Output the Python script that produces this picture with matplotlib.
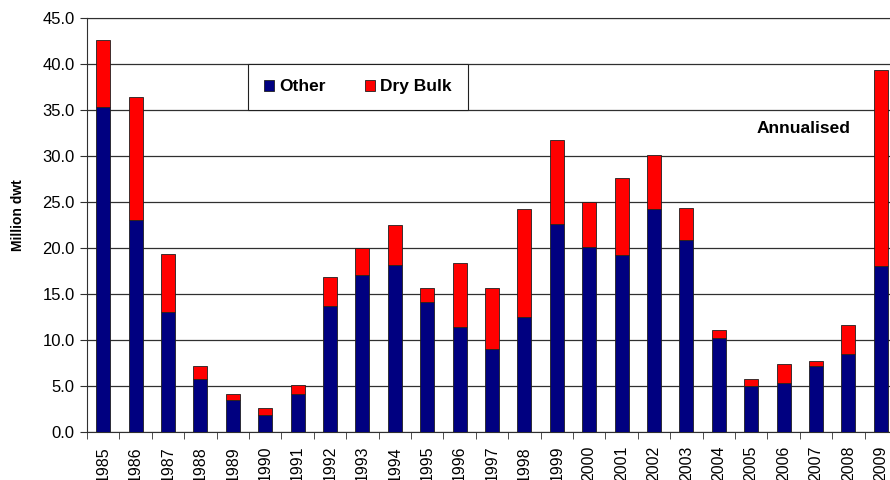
import numpy as np
import matplotlib
matplotlib.use("Agg")
import matplotlib.pyplot as plt

plt.rcParams['font.family'] = ['Liberation Sans', 'DejaVu Sans']

# dados
anos = ['1985', '1986', '1987', '1988', '1989', '1990', '1991', '1992', '1993',
        '1994', '1995', '1996', '1997', '1998', '1999', '2000', '2001', '2002',
        '2003', '2004', '2005', '2006', '2007', '2008', '2009']
outros = [35.3, 23.0, 13.0, 5.8, 3.45, 1.85, 4.1, 13.7, 17.1, 18.15, 14.1, 11.4, 9.0,
          12.5, 22.6, 20.1, 19.2, 24.2, 20.9, 10.2, 5.0, 5.3, 7.2, 8.45, 18.0]
total = [42.6, 36.4, 19.4, 7.2, 4.1, 2.65, 5.1, 16.8, 20.0, 22.5, 15.6, 18.4, 15.7,
         24.2, 31.7, 25.0, 27.6, 30.1, 24.3, 11.05, 5.75, 7.35, 7.7, 11.6, 39.35]
granel = [round(t - o, 2) for t, o in zip(total, outros)]

fig = plt.figure(figsize=(8.9, 4.8), dpi=100)
ax = fig.add_axes([87 / 890, 48 / 480, 810 / 890, 414 / 480])

x = np.arange(len(anos))
largura = 0.43
ax.bar(x, outros, width=largura, color='#000080', edgecolor='#202020',
       linewidth=0.6, label='Other', zorder=3)
ax.bar(x, granel, width=largura, bottom=outros, color='#FF0000', edgecolor='#202020',
       linewidth=0.6, label='Dry Bulk', zorder=3)

ax.set_xlim(-0.5, len(anos) - 0.5)
ax.set_ylim(0, 45)
ax.set_yticks(np.arange(0, 46, 5))
ax.set_yticklabels(['%.1f' % v for v in np.arange(0, 46, 5)], fontsize=12)
ax.yaxis.grid(True, color='#303030', linewidth=0.9, zorder=0)

ax.set_xticks(x)
ax.set_xticklabels(anos, rotation=90, fontsize=11.5)
ax.set_xticks(np.arange(-0.5, len(anos), 1), minor=True)
ax.tick_params(axis='x', which='major', length=0, pad=10)
ax.tick_params(axis='x', which='minor', length=5, color='#303030')
ax.tick_params(axis='y', length=5, color='#303030', pad=4)

for lado in ['left', 'bottom', 'top']:
    ax.spines[lado].set_color('#303030')
ax.spines['right'].set_visible(False)

ax.set_ylabel('Million dwt', fontsize=10, fontweight='bold')
ax.yaxis.set_label_coords(-0.077, 0.524)

leg = ax.legend(loc='lower left', bbox_to_anchor=(0.199, 0.778, 0.271, 0.113),
                mode='expand', ncol=2, fancybox=False, framealpha=1,
                edgecolor='#202020', borderpad=0.9, borderaxespad=0,
                handlelength=0.6, handleheight=0.6, handletextpad=0.3,
                columnspacing=1.5, prop={'weight': 'bold', 'size': 12.5})
leg.get_frame().set_linewidth(0.8)
leg.set_zorder(5)

ax.text(0.942, 0.734, 'Annualised', transform=ax.transAxes, ha='right', va='center',
        fontsize=12.5, fontweight='bold')

fig.savefig('out.png', dpi=100)
